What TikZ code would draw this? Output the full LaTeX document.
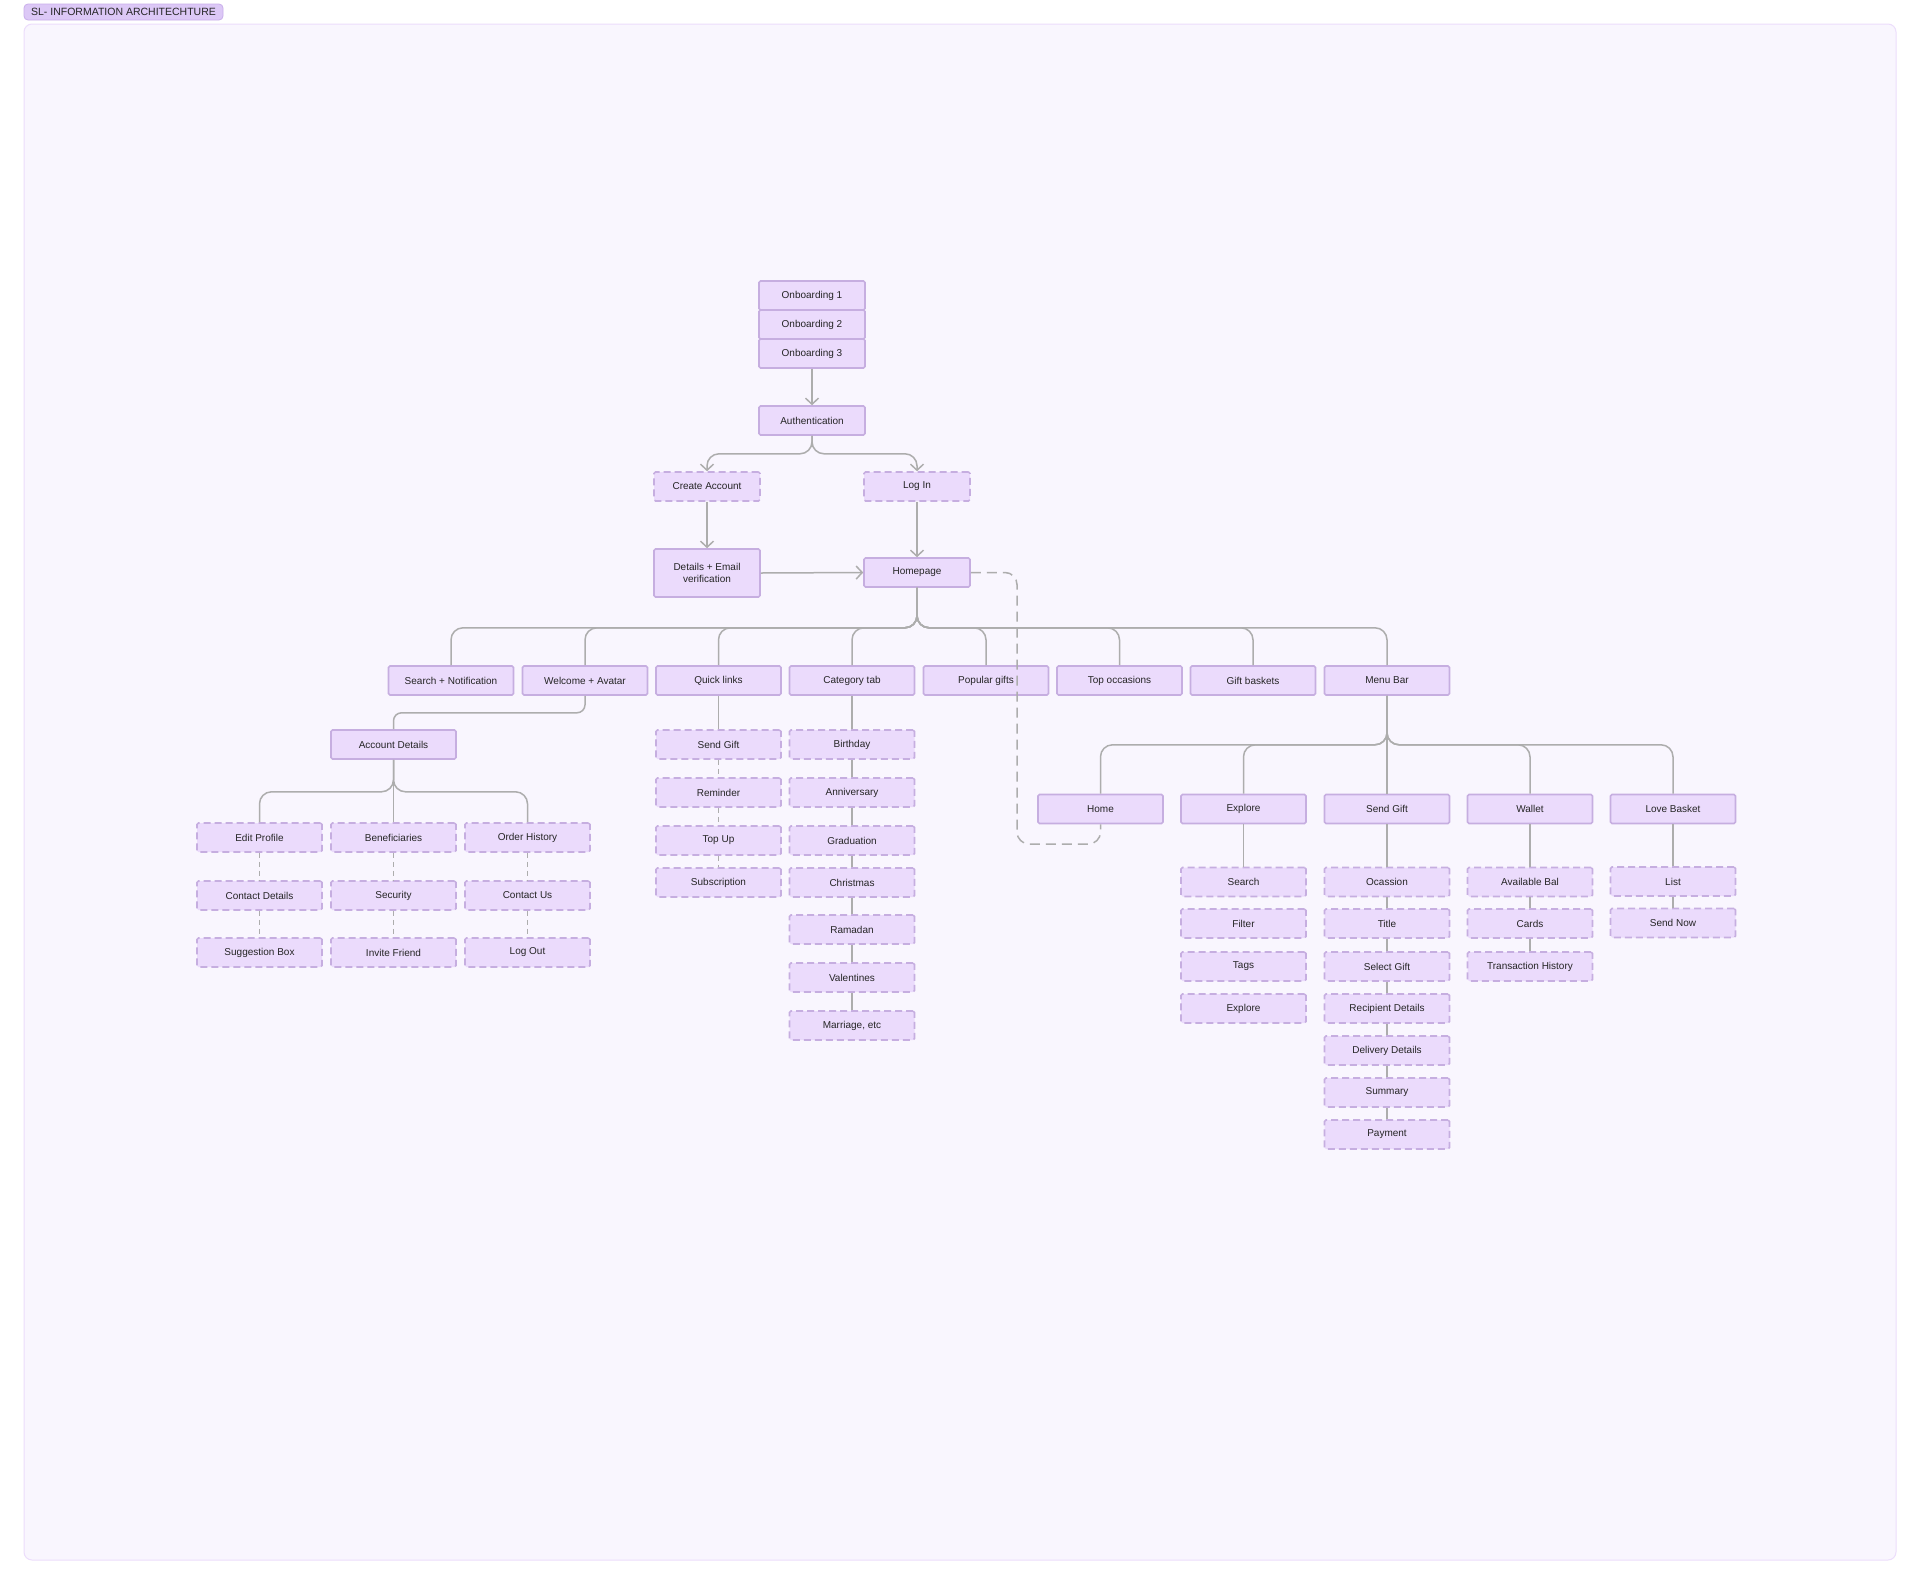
\documentclass[tikz,border=0pt]{standalone}
\usepackage{fontspec}
\setmainfont{Liberation Sans}
\usetikzlibrary{arrows.meta,calc}
\definecolor{pagebg}{HTML}{FFFFFF}
\definecolor{framebg}{HTML}{F9F6FE}
\definecolor{frameline}{HTML}{ECDDFC}
\definecolor{tagfill}{HTML}{DCC8F6}
\definecolor{tagline}{HTML}{C9AEEB}
\definecolor{boxfill}{HTML}{EBDBFC}
\definecolor{boxline}{HTML}{C6AEE0}
\definecolor{txt}{HTML}{252525}
\definecolor{lin}{HTML}{ADADAD}
\begin{document}
\begin{tikzpicture}[x=1pt,y=-1pt,
  box/.style={draw=boxline, fill=boxfill, line width=1.6pt, rounded corners=1.5pt,
    minimum width=125pt, minimum height=29pt, inner sep=0pt,
    font=\fontsize{10}{12}\selectfont, text=txt, align=center},
  dbox/.style={box, dash pattern=on 7pt off 4pt},
  sbox/.style={box, minimum width=106pt},
  sdbox/.style={dbox, minimum width=106pt},
  conn/.style={draw=lin, line width=1.5pt, rounded corners=12pt},
  arr/.style={conn, -{Straight Barb[length=6pt,width=13pt,line width=1.5pt]}},
  dconn/.style={conn, dash pattern=on 5pt off 4pt},
  tag/.style={draw=tagline, fill=tagfill, line width=0.8pt, rounded corners=4pt,
    minimum width=199pt, minimum height=16pt, inner sep=0pt,
    font=\fontsize{10.5}{12}\selectfont, text=txt}
]
\useasboundingbox (0,0) rectangle (1920,1585);
\fill[pagebg] (0,0) rectangle (1920,1585);
\draw[fill=framebg, draw=frameline, line width=1pt, rounded corners=8pt] (24,24) rectangle (1896,1560);
\node[tag] (title) at (123.5,12) {SL- INFORMATION ARCHITECHTURE};

% top flow
\node[sbox] (ob1) at (812,295.5) {Onboarding 1};
\node[sbox] (ob2) at (812,324.5) {Onboarding 2};
\node[sbox] (ob3) at (812,353.5) {Onboarding 3};
\node[sbox] (auth) at (812,420.5) {Authentication};
\node[sdbox] (ca) at (707,486.5) {Create Account};
\node[sdbox] (li) at (917,486.5) {Log In};
\node[sbox, minimum height=48pt] (det) at (707,573) {Details + Email\\verification};
\node[sbox] (hp) at (917,572.5) {Homepage};

\draw[arr] (ob3.south) -- (auth.north);
\draw[arr] (auth.south) -- ++(0,18) -| (ca.north);
\draw[arr] (auth.south) -- ++(0,18) -| (li.north);
\draw[arr] (ca.south) -- (det.north);
\draw[arr] (li.south) -- (hp.north);
\draw[arr] (det.east) -- (hp.west);

% level 1
\node[box] (sn) at (451,680.5) {Search + Notification};
\node[box] (wa) at (585,680.5) {Welcome + Avatar};
\node[box] (ql) at (718.5,680.5) {Quick links};
\node[box] (ct) at (852,680.5) {Category tab};
\node[box] (pg) at (986,680.5) {Popular gifts};
\node[box] (to) at (1119.5,680.5) {Top occasions};
\node[box] (gb) at (1253,680.5) {Gift baskets};
\node[box] (mb) at (1387,680.5) {Menu Bar};
\foreach \c in {sn,wa,ql,ct,pg,to,gb,mb}
  \draw[conn] (hp.south) -- ++(0,40) -| (\c.north);

% account details
\node[box] (ad) at (393.5,744.5) {Account Details};
\draw[conn, rounded corners=8pt] (wa.south) -- ++(0,17) -| (ad.north);
\node[dbox] (ep) at (259.5,837.5) {Edit Profile};
\node[dbox] (be) at (393.5,837.5) {Beneficiaries};
\node[dbox] (oh) at (527.5,837.5) {Order History};
\node[dbox] (cd) at (259.5,895.5) {Contact Details};
\node[dbox] (se) at (393.5,895.5) {Security};
\node[dbox] (cu) at (527.5,895.5) {Contact Us};
\node[dbox] (sb) at (259.5,952.5) {Suggestion Box};
\node[dbox] (if) at (393.5,952.5) {Invite Friend};
\node[dbox] (lo) at (527.5,952.5) {Log Out};
\draw[conn] (ad.south) -- ++(0,32) -| (ep.north);
\draw[conn] (ad.south) -- (be.north);
\draw[conn] (ad.south) -- ++(0,32) -| (oh.north);
\draw[dconn] (ep.south) -- (cd.north);
\draw[dconn] (cd.south) -- (sb.north);
\draw[dconn] (be.south) -- (se.north);
\draw[dconn] (se.south) -- (if.north);
\draw[dconn] (oh.south) -- (cu.north);
\draw[dconn] (cu.south) -- (lo.north);

% quick links
\node[dbox] (qsg) at (718.5,744.5) {Send Gift};
\node[dbox] (qre) at (718.5,792.5) {Reminder};
\node[dbox] (qtu) at (718.5,840.5) {Top Up};
\node[dbox] (qsu) at (718.5,882.5) {Subscription};
\draw[conn] (ql.south) -- (qsg.north);
\draw[dconn] (qsg.south) -- (qre.north);
\draw[dconn] (qre.south) -- (qtu.north);
\draw[dconn] (qtu.south) -- (qsu.north);

% category
\node[dbox] (c1) at (852,744.5) {Birthday};
\node[dbox] (c2) at (852,792.5) {Anniversary};
\node[dbox] (c3) at (852,840.5) {Graduation};
\node[dbox] (c4) at (852,882.5) {Christmas};
\node[dbox] (c5) at (852,929.5) {Ramadan};
\node[dbox] (c6) at (852,977.5) {Valentines};
\node[dbox] (c7) at (852,1025.5) {Marriage, etc};
\draw[conn] (ct.south) -- (c1.north);
\draw[conn] (c1.south) -- (c2.north);
\draw[conn] (c2.south) -- (c3.north);
\draw[conn] (c3.south) -- (c4.north);
\draw[conn] (c4.south) -- (c5.north);
\draw[conn] (c5.south) -- (c6.north);
\draw[conn] (c6.south) -- (c7.north);

% menu bar children
\node[box] (mh) at (1100.5,809) {Home};
\node[box] (me) at (1243.5,809) {Explore};
\node[box] (ms) at (1387,809) {Send Gift};
\node[box] (mw) at (1530,809) {Wallet};
\node[box] (ml) at (1673,809) {Love Basket};
\draw[conn] (mb.south) -- ++(0,49) -| (mh.north);
\draw[conn] (mb.south) -- ++(0,49) -| (me.north);
\draw[conn] (mb.south) -- (ms.north);
\draw[conn] (mb.south) -- ++(0,49) -| (mw.north);
\draw[conn] (mb.south) -- ++(0,49) -| (ml.north);

% homepage -> home dashed
\coordinate (hpc) at (1017,572.5);
\coordinate (hmc) at (1100.5,844);
\draw[conn, dash pattern=on 10pt off 6pt] (hp.east) -- (hpc) |- (hmc) -- (mh.south);

% explore col
\node[dbox] (e1) at (1243.5,882) {Search};
\node[dbox] (e2) at (1243.5,923.5) {Filter};
\node[dbox] (e3) at (1243.5,966.5) {Tags};
\node[dbox] (e4) at (1243.5,1008.5) {Explore};
\draw[conn] (me.south) -- (e1.north);

% send gift col
\node[dbox] (s1) at (1387,882) {Ocassion};
\node[dbox] (s2) at (1387,923.5) {Title};
\node[dbox] (s3) at (1387,966.5) {Select Gift};
\node[dbox] (s4) at (1387,1008.5) {Recipient Details};
\node[dbox] (s5) at (1387,1050.5) {Delivery Details};
\node[dbox] (s6) at (1387,1092.5) {Summary};
\node[dbox] (s7) at (1387,1134.5) {Payment};
\draw[conn] (ms.south) -- (s1.north);
\draw[conn] (s1.south) -- (s2.north);
\draw[conn] (s2.south) -- (s3.north);
\draw[conn] (s3.south) -- (s4.north);
\draw[conn] (s4.south) -- (s5.north);
\draw[conn] (s5.south) -- (s6.north);
\draw[conn] (s6.south) -- (s7.north);

% wallet col
\node[dbox] (w1) at (1530,882) {Available Bal};
\node[dbox] (w2) at (1530,923.5) {Cards};
\node[dbox] (w3) at (1530,966.5) {Transaction History};
\draw[conn] (mw.south) -- (w1.north);
\draw[conn] (w1.south) -- (w2.north);
\draw[conn] (w2.south) -- (w3.north);

% love basket col
\node[dbox] (l1) at (1673,881.5) {List};
\node[dbox] (l2) at (1673,923) {Send Now};
\draw[conn] (ml.south) -- (l1.north);
\draw[conn] (l1.south) -- (l2.north);
\end{tikzpicture}
\end{document}
